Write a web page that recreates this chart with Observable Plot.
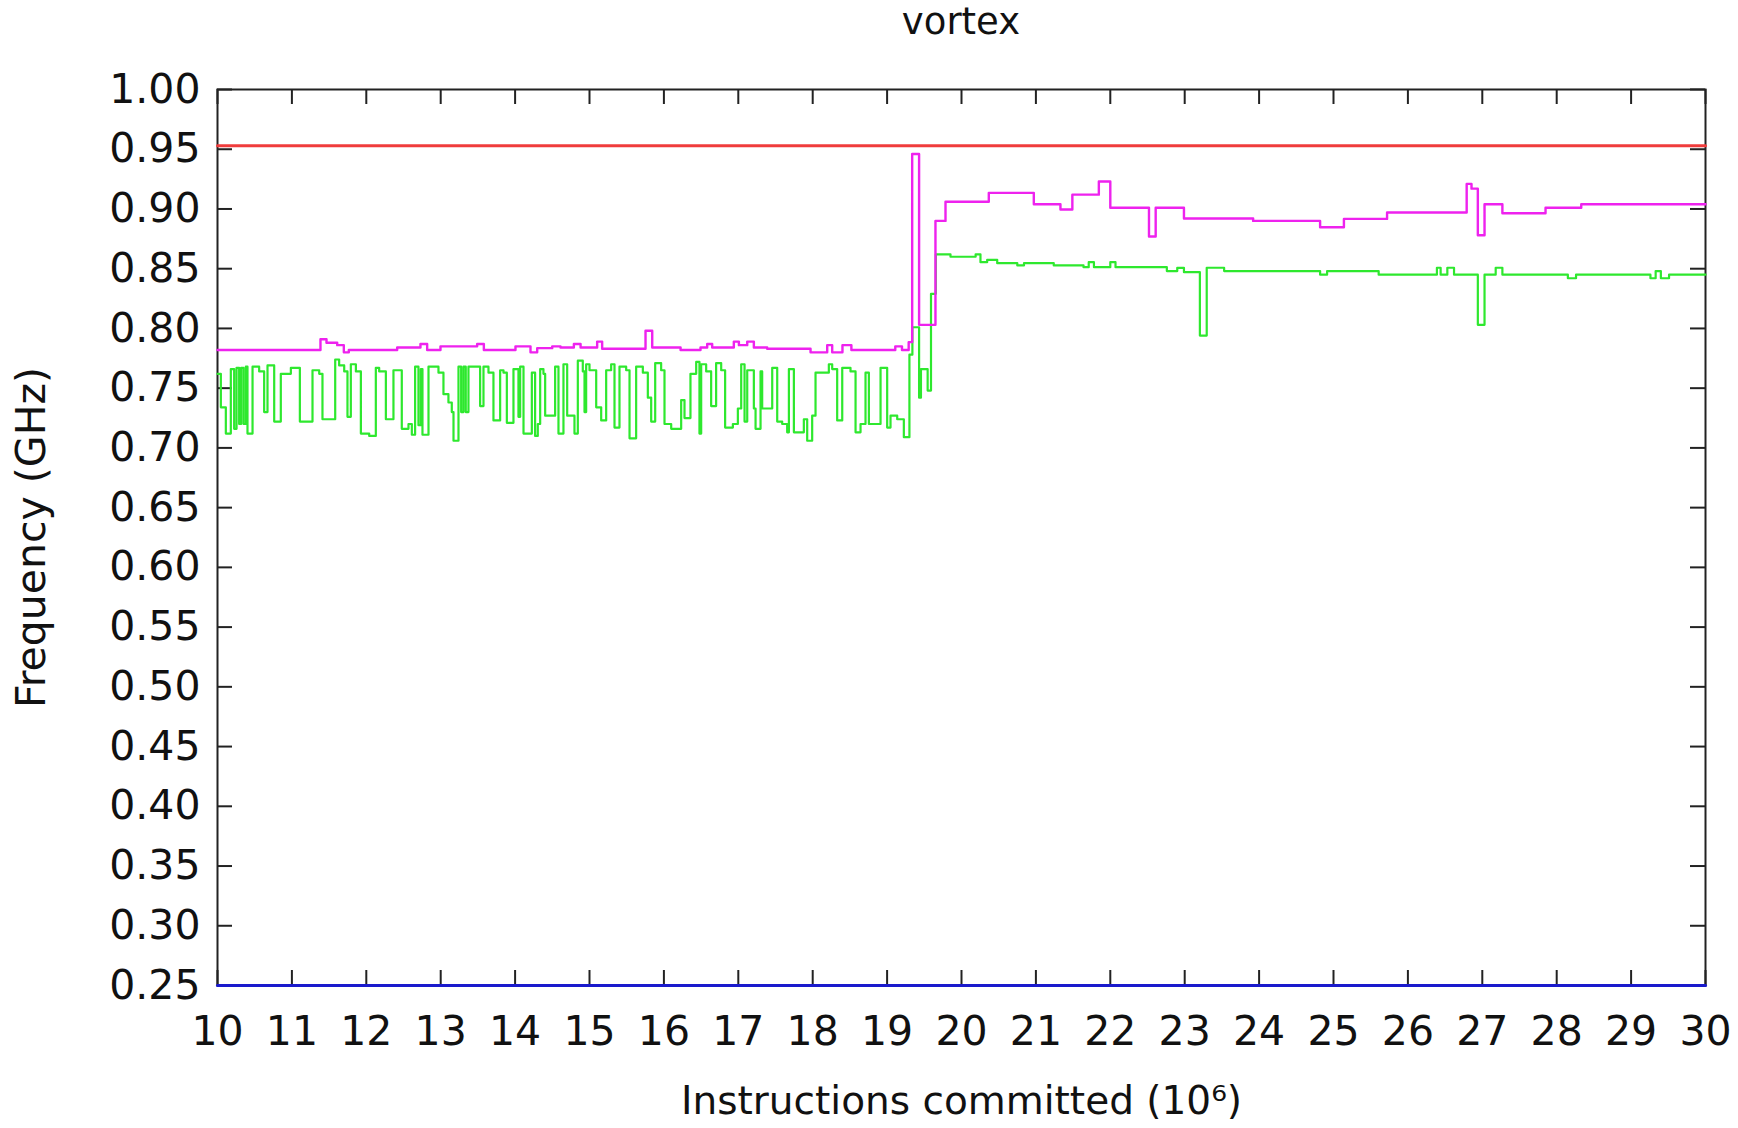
<!DOCTYPE html>
<html><head><meta charset="utf-8">
<script src="https://cdn.jsdelivr.net/npm/d3@7"></script>
<script src="https://cdn.jsdelivr.net/npm/@observablehq/plot@0.6"></script>
<style>
body{margin:0;background:#fff;}
#title{height:44px;line-height:44px;padding-left:184px;width:1554px;text-align:center;font-family:"DejaVu Sans";font-size:37px;color:#111;}
</style></head><body>
<div id="title"></div>
<div id="chart"></div>
<script>
const title = "vortex";
const xLabel = "Instructions committed (10⁶)";
const yLabel = "Frequency (GHz)";
const xTicks = [10,11,12,13,14,15,16,17,18,19,20,21,22,23,24,25,26,27,28,29,30];
const yTicks = [0.25,0.30,0.35,0.40,0.45,0.50,0.55,0.60,0.65,0.70,0.75,0.80,0.85,0.90,0.95,1.00];

const greenT = [10.000,10.045,10.112,10.179,10.224,10.256,10.291,10.318,10.350,10.381,10.403,10.471,10.560,10.627,10.672,10.762,10.851,10.986,11.107,11.277,11.367,11.411,11.582,11.635,11.703,11.747,11.792,11.860,11.927,12.039,12.128,12.173,12.263,12.365,12.477,12.567,12.612,12.656,12.701,12.733,12.755,12.836,12.970,13.037,13.104,13.149,13.172,13.239,13.275,13.306,13.337,13.373,13.530,13.575,13.642,13.709,13.799,13.844,13.889,13.978,14.045,14.068,14.113,14.225,14.269,14.305,14.337,14.381,14.404,14.538,14.583,14.650,14.700,14.798,14.843,14.910,14.933,14.955,15.000,15.090,15.157,15.224,15.291,15.336,15.403,15.493,15.538,15.627,15.717,15.784,15.829,15.883,15.963,16.008,16.098,16.232,16.277,16.357,16.434,16.478,16.501,16.568,16.635,16.702,16.770,16.823,16.927,16.994,17.039,17.084,17.120,17.209,17.232,17.299,17.321,17.456,17.523,17.590,17.657,17.680,17.747,17.881,17.926,17.993,18.038,18.217,18.262,18.329,18.397,18.508,18.576,18.643,18.710,18.755,18.912,19.001,19.046,19.136,19.225,19.300,19.340,19.430,19.455,19.545,19.590,19.655,19.852,20.190,20.255,20.345,20.480,20.750,20.840,21.240,21.640,21.710,21.780,22.000,22.070,22.760,22.900,22.990,23.204,23.296,23.530,24.820,24.914,25.607,26.390,26.440,26.530,26.620,26.940,27.030,27.180,27.270,28.150,28.260,29.260,29.330,29.400,29.510,30.000];
const greenV = [0.762,0.734,0.712,0.766,0.716,0.767,0.720,0.767,0.720,0.768,0.712,0.768,0.764,0.730,0.769,0.722,0.762,0.767,0.722,0.765,0.762,0.724,0.774,0.769,0.764,0.726,0.770,0.764,0.712,0.710,0.767,0.764,0.724,0.765,0.716,0.720,0.711,0.768,0.719,0.766,0.711,0.768,0.763,0.745,0.738,0.730,0.706,0.768,0.730,0.768,0.730,0.768,0.735,0.768,0.763,0.723,0.765,0.763,0.721,0.766,0.726,0.768,0.712,0.763,0.710,0.720,0.766,0.762,0.727,0.768,0.712,0.770,0.727,0.712,0.773,0.764,0.730,0.770,0.765,0.734,0.723,0.765,0.770,0.717,0.768,0.765,0.708,0.768,0.763,0.742,0.722,0.771,0.765,0.720,0.716,0.740,0.725,0.762,0.772,0.712,0.770,0.764,0.735,0.771,0.765,0.717,0.720,0.733,0.770,0.722,0.765,0.733,0.716,0.764,0.733,0.767,0.722,0.720,0.713,0.766,0.713,0.724,0.706,0.727,0.763,0.770,0.766,0.723,0.767,0.764,0.713,0.720,0.763,0.720,0.767,0.717,0.727,0.724,0.709,0.778,0.801,0.742,0.766,0.748,0.829,0.862,0.860,0.862,0.8555,0.8574,0.8546,0.8527,0.8546,0.8527,0.8513,0.8555,0.8513,0.8555,0.8513,0.848,0.8507,0.8471,0.794,0.8508,0.848,0.845,0.848,0.845,0.8508,0.845,0.8508,0.845,0.803,0.845,0.8508,0.845,0.842,0.845,0.842,0.848,0.842,0.845,0.845];

const magentaT = [10.000,11.384,11.465,11.609,11.698,11.765,12.415,12.728,12.818,12.997,13.490,13.580,14.005,14.207,14.297,14.499,14.610,14.790,14.880,15.103,15.170,15.753,15.843,16.224,16.492,16.582,16.649,16.940,17.008,17.120,17.209,17.388,17.971,18.195,18.262,18.400,18.520,19.110,19.200,19.290,19.337,19.430,19.650,19.785,20.367,20.972,21.330,21.490,21.846,22.000,22.520,22.610,22.990,23.920,24.820,25.140,25.720,26.790,26.855,26.940,27.030,27.270,27.850,28.330,30.000];
const magentaV = [0.782,0.791,0.788,0.786,0.780,0.782,0.784,0.787,0.782,0.785,0.787,0.782,0.785,0.780,0.7835,0.785,0.784,0.787,0.784,0.789,0.783,0.798,0.784,0.782,0.784,0.787,0.784,0.789,0.786,0.789,0.784,0.783,0.780,0.786,0.780,0.786,0.782,0.785,0.782,0.7885,0.946,0.803,0.890,0.906,0.9135,0.904,0.8995,0.912,0.923,0.901,0.877,0.901,0.892,0.890,0.8847,0.8917,0.897,0.921,0.917,0.878,0.904,0.8964,0.901,0.904,0.904];

const redT = [10, 30];
const redV = [0.953, 0.953];
const blueT = [10, 30];
const blueV = [0.25, 0.25];

const toRows = (ts, vs) => ts.map((t, i) => ({t, v: vs[i]}));
const green = toRows(greenT, greenV);
const magenta = toRows(magentaT, magentaV);
const red = toRows(redT, redV);
const blue = toRows(blueT, blueV);

document.getElementById("title").textContent = title;

const W = 1738, H = 1084, mL = 217, mR = 33, mT = 45, mB = 143;
const innerW = W - mL - mR, innerH = H - mT - mB;
const tk = 15;
const axisColor = "#222";

const chart = Plot.plot({
  width: W, height: H,
  marginLeft: mL, marginRight: mR, marginTop: mT, marginBottom: mB,
  style: {fontFamily: "DejaVu Sans", fontSize: "41px", background: "#fff", color: "#111"},
  x: {domain: [10, 30]},
  y: {domain: [0.25, 1.0]},
  marks: [
    Plot.axisX(xTicks, {tickSize: 0, tickPadding: 30, fontSize: 41, tickFormat: d3.format("d"),
      label: null}),
    Plot.text([xLabel], {frameAnchor: "bottom", dy: 116, fontSize: 39, lineAnchor: "middle", fill: "#111"}),
    Plot.axisY(yTicks, {tickSize: 0, tickPadding: 17, fontSize: 41, tickFormat: d3.format(".2f"),
      label: yLabel, labelAnchor: "center", labelOffset: 202, labelArrow: "none"}),
    Plot.tickX(xTicks, {x: d => d, insetTop: innerH - tk, stroke: axisColor, strokeWidth: 2}),
    Plot.tickX(xTicks, {x: d => d, insetBottom: innerH - tk, stroke: axisColor, strokeWidth: 2}),
    Plot.tickY(yTicks, {y: d => d, insetRight: innerW - tk, stroke: axisColor, strokeWidth: 2}),
    Plot.tickY(yTicks, {y: d => d, insetLeft: innerW - tk, stroke: axisColor, strokeWidth: 2}),
    Plot.frame({stroke: axisColor, strokeWidth: 2}),
    Plot.line(green, {x: "t", y: "v", curve: "step-after", stroke: "#2ee82e", strokeWidth: 2.2}),
    Plot.line(magenta, {x: "t", y: "v", curve: "step-after", stroke: "#ee22ee", strokeWidth: 2.4}),
    Plot.line(red, {x: "t", y: "v", stroke: "#f03c3c", strokeWidth: 3}),
    Plot.line(blue, {x: "t", y: "v", stroke: "#1a1acc", strokeWidth: 3})
  ]
});
document.getElementById("chart").appendChild(chart);
</script>
</body></html>
